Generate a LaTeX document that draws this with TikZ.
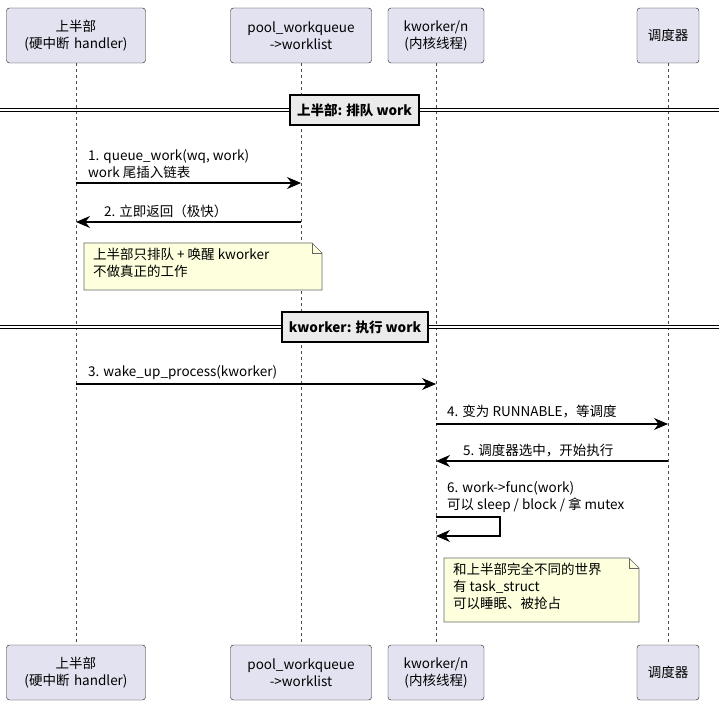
\documentclass[tikz,border=0pt]{standalone}
\usepackage{fontspec}
\setmainfont{Noto Sans CJK SC}
\usetikzlibrary{arrows.meta,positioning}
\definecolor{partfill}{HTML}{E2E2F0}
\definecolor{notefill}{HTML}{FEFFDD}
\tikzset{
  part/.style={draw=black!90,fill=partfill,rounded corners=3pt,align=center,
    minimum height=55pt,inner xsep=6pt,font=\fontsize{13.5}{17}\selectfont},
  life/.style={dashed,black!70,line width=0.6pt},
  msg/.style={-{Stealth[length=14pt,width=12pt]},line width=1.2pt},
  lbl/.style={anchor=south west,align=left,inner sep=1pt,font=\fontsize{13.5}{17}\selectfont},
  sep/.style={draw,line width=1.8pt,fill=black!8,font=\bfseries\fontsize{13.5}{17}\selectfont,
    minimum height=30pt,inner xsep=7pt},
  notebox/.style={draw=black!60,fill=notefill,line width=0.6pt},
}
\begin{document}
\begin{tikzpicture}[x=1pt,y=-1pt]
  \useasboundingbox (0,0) rectangle (719,708);
  % participants
  \foreach \n/\x/\w/\t in {top/76/139/{上半部\\(硬中断 handler)},
      pool/301/141/{pool\_workqueue\\->worklist},
      kw/436/96/{kworker/n\\(内核线程)},
      sch/668/62/{调度器}} {
    \node[part,minimum width=\w pt,text width=\w pt-12pt] (\n1) at (\x,35.5) {\t};
    \node[part,minimum width=\w pt,text width=\w pt-12pt] (\n2) at (\x,672.5) {\t};
    \draw[life] (\n1.south) -- (\n2.north);
  }
  % section 1
  \draw[double,double distance=2.5pt,line width=0.8pt] (0,110) -- (719,110);
  \node[sep] (s1) at (354.5,110) {上半部: 排队 work};
  \coordinate (a1) at (76,183); \coordinate (b1) at (301,183);
  \draw[msg] (a1) -- (b1);
  \node[lbl] at (87,180) {1. queue\_work(wq, work)\\work 尾插入链表};
  \coordinate (a2) at (301,222); \coordinate (b2) at (76,222);
  \draw[msg] (a2) -- (b2);
  \node[lbl] at (103,219) {2. 立即返回（极快）};
  \draw[notebox] (84,243) -- (312,243) -- (322,253) -- (322,290) -- (84,290) -- cycle;
  \draw[black!60] (312,243) -- (312,253) -- (322,253);
  \node[lbl,anchor=north west] at (92,247) {上半部只排队 + 唤醒 kworker\\不做真正的工作};
  % section 2
  \draw[double,double distance=2.5pt,line width=0.8pt] (0,327) -- (719,327);
  \node[sep] (s2) at (355,327) {kworker: 执行 work};
  \coordinate (a3) at (76,384); \coordinate (b3) at (436,384);
  \draw[msg] (a3) -- (b3);
  \node[lbl] at (87,381) {3. wake\_up\_process(kworker)};
  \coordinate (a4) at (436,424); \coordinate (b4) at (668,424);
  \draw[msg] (a4) -- (b4);
  \node[lbl] at (446,419) {4. 变为 RUNNABLE，等调度};
  \coordinate (a5) at (668,461); \coordinate (b5) at (436,461);
  \draw[msg] (a5) -- (b5);
  \node[lbl] at (462,458) {5. 调度器选中，开始执行};
  \coordinate (a6) at (436,517); \coordinate (b6) at (436,536);
  \draw[msg] (a6) -- (500,517) -- (500,536) -- (b6);
  \node[lbl] at (446,514) {6. work->func(work)\\可以 sleep / block / 拿 mutex};
  \draw[notebox] (444,558) -- (629,558) -- (639,568) -- (639,622) -- (444,622) -- cycle;
  \draw[black!60] (629,558) -- (629,568) -- (639,568);
  \node[lbl,anchor=north west] at (452,562) {和上半部完全不同的世界\\有 task\_struct\\可以睡眠、被抢占};
\end{tikzpicture}
\end{document}
